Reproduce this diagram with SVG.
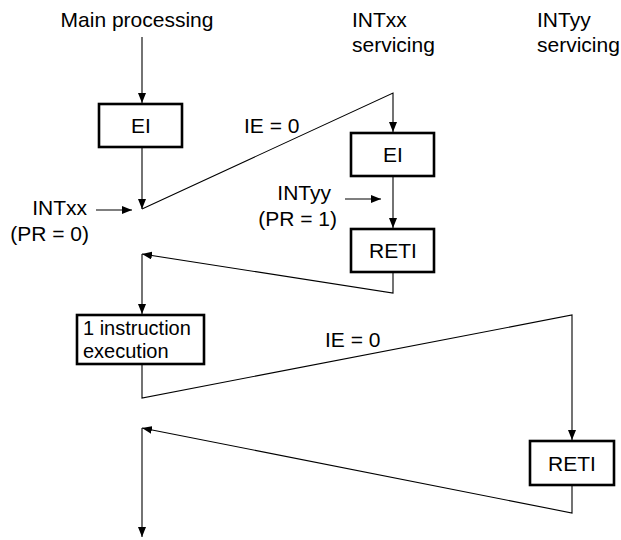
<svg xmlns="http://www.w3.org/2000/svg" width="621" height="540" viewBox="0 0 621 540">
<defs>
<style>
text{font-family:"Liberation Sans",Arial,Helvetica,sans-serif;font-size:21px;fill:#000}
.c{text-anchor:middle}
.e{text-anchor:end}
.sm{font-size:20px}
.box{fill:#fff;stroke:#000;stroke-width:2.6}
.ln{fill:none;stroke:#000;stroke-width:1.1}
</style>
<marker id="ah" markerWidth="11" markerHeight="8" refX="10" refY="4" orient="auto" markerUnits="userSpaceOnUse">
<path d="M0,0 L10,4 L0,8 z" fill="#000"/>
</marker>
</defs>
<rect width="621" height="540" fill="#fff"/>
<g id="labels">
<text class="c" x="137" y="27">Main processing</text>
<text x="352" y="27">INTxx</text>
<text x="352" y="52">servicing</text>
<text x="537" y="27">INTyy</text>
<text x="537" y="52">servicing</text>
<text x="244" y="133">IE = 0</text>
<text x="325" y="347">IE = 0</text>
<text class="e" x="87" y="215">INTxx</text>
<text class="e" x="89" y="241">(PR = 0)</text>
<text class="e" x="331" y="200">INTyy</text>
<text class="e" x="337" y="226">(PR = 1)</text>
</g>
<g id="connectors">
<path class="ln" d="M142,37 V103" marker-end="url(#ah)"/>
<path class="ln" d="M142,147 V209" marker-end="url(#ah)"/>
<path class="ln" d="M142,209 L393,93 V132" marker-end="url(#ah)"/>
<path class="ln" d="M96,210 H132" marker-end="url(#ah)"/>
<path class="ln" d="M393,176 V228" marker-end="url(#ah)"/>
<path class="ln" d="M345,199 H381" marker-end="url(#ah)"/>
<path class="ln" d="M393,272 V293 L142,254" marker-end="url(#ah)"/>
<path class="ln" d="M142,254 V314" marker-end="url(#ah)"/>
<path class="ln" d="M142,364 V398 L572,315 V440" marker-end="url(#ah)"/>
<path class="ln" d="M572,485 V513 L142,428" marker-end="url(#ah)"/>
<path class="ln" d="M142,428 V537" marker-end="url(#ah)"/>
</g>
<g id="ei-main">
<rect class="box" x="99" y="104" width="83" height="43"/>
<text class="c" x="141" y="133">EI</text>
</g>
<g id="ei-intxx">
<rect class="box" x="351" y="133" width="83" height="43"/>
<text class="c" x="393" y="162">EI</text>
</g>
<g id="reti-intxx">
<rect class="box" x="351" y="229" width="83" height="43"/>
<text class="c" x="393" y="258">RETI</text>
</g>
<g id="one-instruction">
<rect class="box" x="77" y="315" width="127" height="49"/>
<text class="sm" x="83" y="335">1 instruction</text>
<text class="sm" x="83" y="358">execution</text>
</g>
<g id="reti-intyy">
<rect class="box" x="530" y="441" width="84" height="44"/>
<text class="c" x="572" y="471">RETI</text>
</g>
</svg>
